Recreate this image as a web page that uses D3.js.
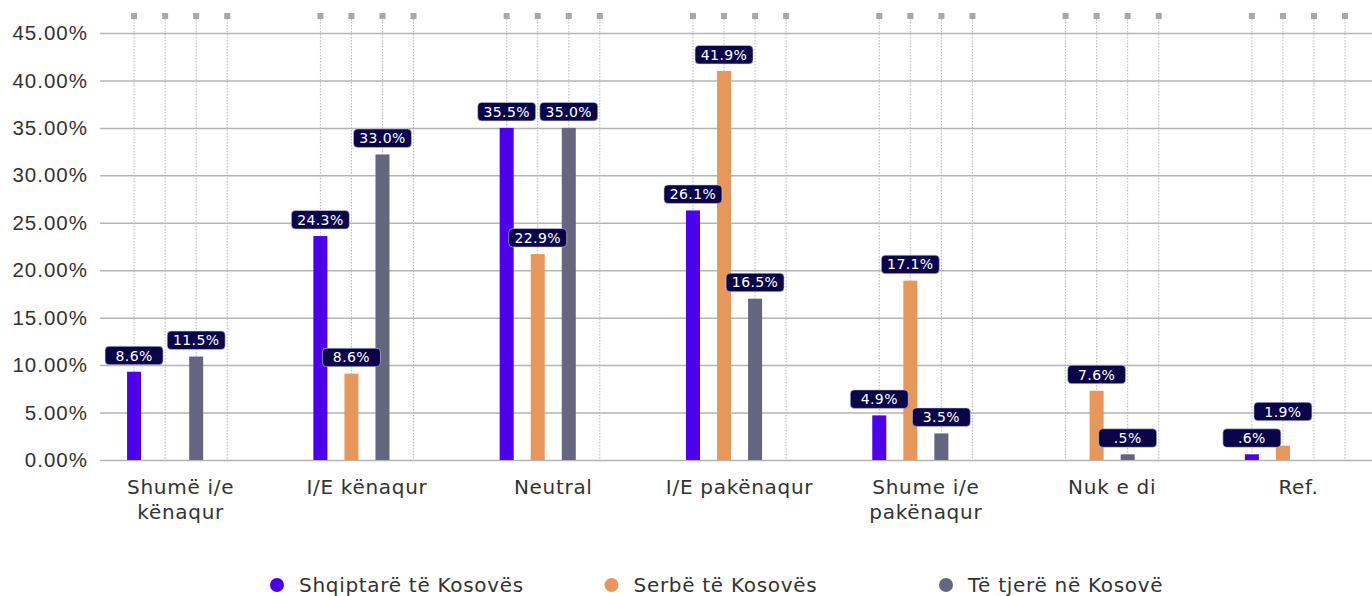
<!DOCTYPE html>
<html>
<head>
<meta charset="utf-8">
<script src="https://cdn.jsdelivr.net/npm/d3@7"></script>
<style>
  body { margin: 0; background: #fff; }
  svg { display: block; font-family: "DejaVu Sans", sans-serif; }
</style>
</head>
<body>
<script>
// categories and series
const categories = ["Shumë i/e kënaqur", "I/E kënaqur", "Neutral", "I/E pakënaqur", "Shume i/e pakënaqur", "Nuk e di", "Ref."]
const series = ["Shqiptarë të Kosovës", "Serbë të Kosovës", "Të tjerë në Kosovë"]
const colors = ["#4c00ec", "#e8975b", "#65657f"]

// bar heights as drawn (percent)
const albanian = [9.3, 23.6, 35.0, 26.3, 4.7, 0, 0.6]
const serbian = [0, 9.1, 21.7, 41.0, 18.9, 7.3, 1.5]
const others = [10.9, 32.2, 35.0, 17.0, 2.8, 0.6, 0]

// label texts printed above the bars
const albanianLabels = ["8.6%", "24.3%", "35.5%", "26.1%", "4.9%", "", ".6%"]
const serbianLabels = ["", "8.6%", "22.9%", "41.9%", "17.1%", "7.6%", "1.9%"]
const othersLabels = ["11.5%", "33.0%", "35.0%", "16.5%", "3.5%", ".5%", ""]

const yTicks = [0, 5, 10, 15, 20, 25, 30, 35, 40, 45]

function main() {
  let width = 1372, height = 596

  let svg = d3.select("body").append("svg")
    .attr("width", width)
    .attr("height", height)

  // scales
  let x0 = d3.scaleBand().domain(categories).range([87.5, 87.5 + 186.3 * categories.length])
  // each category has four slots, the last one is empty
  let slots = series.concat(["_"])
  let x1 = d3.scalePoint().domain(slots).range([0, x0.bandwidth()]).padding(1.5)
  let y = d3.scaleLinear().domain([0, 45]).range([460, 33])

  // horizontal grid + y labels
  let yAxis = svg.append("g")
    .attr("transform", "translate(100,0)")
    .call(d3.axisLeft(y).tickValues(yTicks).tickFormat(d => d.toFixed(2) + "%").tickSize(-(width - 100)).tickPadding(12))
  yAxis.select(".domain").remove()
  yAxis.selectAll(".tick line").attr("stroke", "#b5b5b5").attr("stroke-width", 1.5)
  yAxis.selectAll(".tick text").attr("fill", "#333")
    .style("font-size", "20.5px").style("letter-spacing", "1px")

  // dotted vertical lines and small squares on top
  let slotData = []
  categories.forEach(c => slots.forEach(s => slotData.push(x0(c) + x1(s))))
  svg.append("g").selectAll("line").data(slotData).enter().append("line")
    .attr("x1", d => d).attr("x2", d => d)
    .attr("y1", 19).attr("y2", y(0))
    .attr("stroke", "#b8b8b8").attr("stroke-width", 1).attr("stroke-dasharray", "1.5,1.5")
  svg.append("g").selectAll("rect").data(slotData).enter().append("rect")
    .attr("x", d => d - 3).attr("y", 13).attr("width", 6).attr("height", 6)
    .attr("fill", "#a8a8a8")

  // bars
  let values = [albanian, serbian, others]
  let labels = [albanianLabels, serbianLabels, othersLabels]
  let barW = 14
  let rows = []
  categories.forEach((c, i) => {
    series.forEach((s, j) => {
      rows.push({cat: c, ser: s, j: j, v: values[j][i], label: labels[j][i]})
    })
  })

  svg.append("g").selectAll("rect").data(rows.filter(d => d.v > 0)).enter().append("rect")
    .attr("x", d => x0(d.cat) + x1(d.ser) - barW / 2)
    .attr("y", d => y(d.v))
    .attr("width", barW)
    .attr("height", d => y(0) - y(d.v))
    .attr("fill", d => colors[d.j])

  // value labels, pushed up when they hit a neighbour
  let boxW = 58, boxH = 18.5
  let placed = []
  let lab = rows.filter(d => d.label !== "")
  lab.forEach(d => {
    d.cx = x0(d.cat) + x1(d.ser)
    d.bottom = y(d.v) - 7
    placed.forEach(p => {
      if (p.cat == d.cat && Math.abs(p.cx - d.cx) < boxW &&
          d.bottom > p.bottom - boxH && d.bottom - boxH < p.bottom) {
        d.bottom = p.bottom - boxH - 8
      }
    })
    placed.push(d)
  })

  let lg = svg.append("g").selectAll("g").data(lab).enter().append("g")
    .attr("transform", d => "translate(" + d.cx + "," + d.bottom + ")")
  lg.append("rect")
    .attr("x", -boxW / 2).attr("y", -boxH)
    .attr("width", boxW).attr("height", boxH)
    .attr("rx", 4)
    .attr("fill", "#0a0549")
    .attr("stroke", "#d0d0e0").attr("stroke-width", 0.6)
  lg.append("text")
    .attr("y", -boxH / 2)
    .attr("dy", "0.36em")
    .attr("text-anchor", "middle")
    .attr("fill", "#fff")
    .style("font-size", "14px")
    .style("letter-spacing", "0.4px")
    .text(d => d.label)

  // category labels, wrapped to the band width
  let xg = svg.append("g")
  categories.forEach(c => {
    let words = c.split(" ")
    let lines = [], line = []
    let t = xg.append("text")
      .attr("x", x0(c) + x0.bandwidth() / 2)
      .attr("text-anchor", "middle")
      .attr("fill", "#333")
      .style("font-size", "20px")
      .style("letter-spacing", "0.7px")
    words.forEach(w => {
      line.push(w)
      t.text(line.join(" "))
      if (t.node().getComputedTextLength() > 176 && line.length > 1) {
        line.pop()
        lines.push(line.join(" "))
        line = [w]
      }
    })
    lines.push(line.join(" "))
    t.text(null)
    lines.forEach((l, k) => {
      t.append("tspan").attr("x", x0(c) + x0.bandwidth() / 2).attr("y", 494 + k * 25).text(l)
    })
  })

  // legend
  let lx = d3.scalePoint().domain(series).range([277, 946])
  let leg = svg.append("g").selectAll("g").data(series).enter().append("g")
    .attr("transform", d => "translate(" + lx(d) + ",585)")
  leg.append("circle").attr("r", 7).attr("fill", (d, i) => colors[i])
  leg.append("text")
    .attr("x", 22).attr("dy", "0.36em")
    .attr("fill", "#333")
    .style("font-size", "20px")
    .style("letter-spacing", "0.7px")
    .text(d => d)
}

main()
</script>
</body>
</html>
